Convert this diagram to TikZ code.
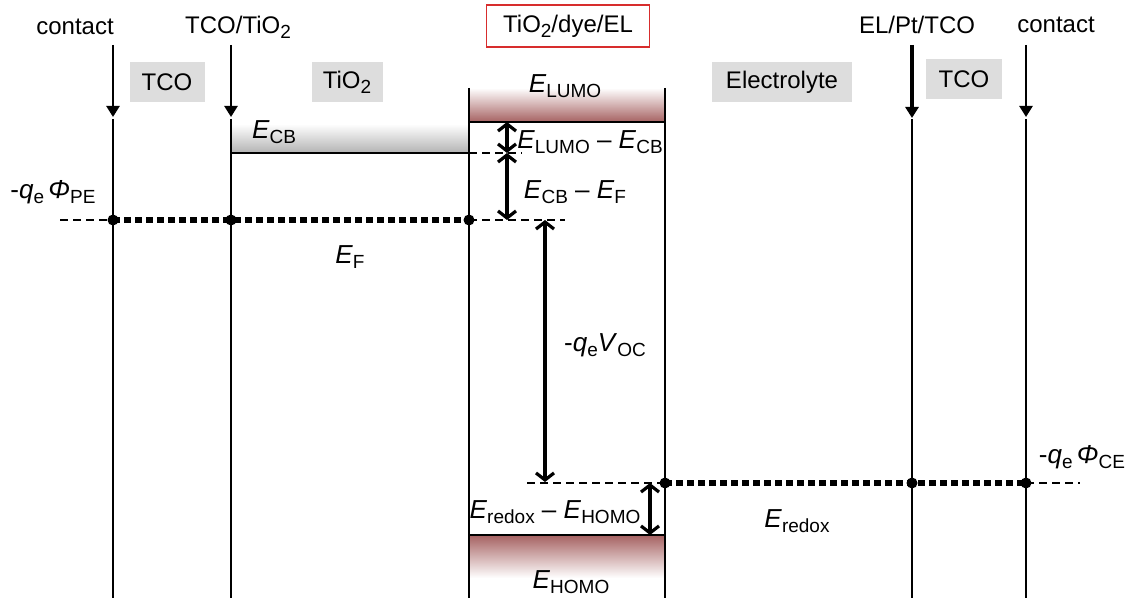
\documentclass[tikz,border=0pt]{standalone}
\usepackage{fontspec}
\setmainfont{Liberation Sans}
\usetikzlibrary{arrows.meta,positioning}
\definecolor{dyered}{RGB}{150,70,70}
\definecolor{dyeframe}{RGB}{215,45,45}
\definecolor{tagfill}{RGB}{221,221,221}
\newcommand{\sub}[1]{\raisebox{-0.4ex}{\fontsize{9.5}{10}\selectfont #1}}
\newcommand{\en}[1]{\textit{E}\sub{#1}}
\newcommand{\qe}{-\textit{q}\sub{e}}

\begin{document}
\begin{tikzpicture}[
      x=0.5pt, y=-0.5pt,
      every node/.style={font=\fontsize{12}{14}\selectfont, inner sep=0pt},
      elabel/.style={font=\fontsize{13}{15}\selectfont},
      tag/.style={fill=tagfill, minimum height=20pt},
      dyetag/.style={draw=dyeframe, line width=0.8pt,
                     minimum width=81.5pt, minimum height=21pt},
      wall/.style={line width=0.6pt},
      probe/.style={-{Triangle[length=5.5pt,width=6.5pt]}, line width=1.2pt},
      edge/.style={line width=1.1pt},
      guide/.style={line width=0.9pt, dash pattern=on 4pt off 2.5pt},
      level/.style={line width=2.6pt, dash pattern=on 3.5pt off 2pt},
      gap/.style={{Straight Barb[length=3.5pt,width=9pt]}-{Straight Barb[length=3.5pt,width=9pt]},
                  line width=1.6pt},
      dot/.style={circle, fill, inner sep=0pt, minimum size=5.5pt},
    ]
    \useasboundingbox (0,0) rectangle (1133,598);

    % Bands
    \shade[top color=white, bottom color=dyered!85] (469,88) rectangle (665,122);
    \shade[top color=white, bottom color=gray!60] (231,124) rectangle (469,153);
    \shade[top color=dyered!85, bottom color=white] (469,535) rectangle (665,578);

    % Interfaces
    \coordinate (pe-top)   at (113,119);  \coordinate (pe-bot)   at (113,598);
    \coordinate (tio-top)  at (231,119);  \coordinate (tio-bot)  at (231,598);
    \coordinate (dyel-top) at (469,88);   \coordinate (dyel-bot) at (469,598);
    \coordinate (dyer-top) at (665,88);   \coordinate (dyer-bot) at (665,598);
    \coordinate (pt-top)   at (912,119);  \coordinate (pt-bot)   at (912,598);
    \coordinate (ce-top)   at (1026,119); \coordinate (ce-bot)   at (1026,598);
    \draw[wall] (pe-top) -- (pe-bot);
    \draw[wall] (tio-top) -- (tio-bot);
    \draw[wall] (dyel-top) -- (dyel-bot);
    \draw[wall] (dyer-top) -- (dyer-bot);
    \draw[wall] (pt-top) -- (pt-bot);
    \draw[wall] (ce-top) -- (ce-bot);

    % Headings
    \node (contl)  at (75,27)   {contact};
    \node (tcotio) at (238,27)  {TCO/TiO\sub{2}};
    \node[dyetag] (dyehead) at (568,26) {TiO\sub{2}/dye/EL};
    \node (elpt)   at (917,25)  {EL/Pt/TCO};
    \node (contr)  at (1056,25) {contact};

    % Probes
    \coordinate (pe-in)  at (113,45);  \coordinate (pe-tip)  at (113,117);
    \coordinate (tio-in) at (231,45);  \coordinate (tio-tip) at (231,117);
    \coordinate (pt-in)  at (912,45);  \coordinate (pt-tip)  at (912,118);
    \coordinate (ce-in)  at (1026,45); \coordinate (ce-tip)  at (1026,117);
    \draw[probe] (pe-in) -- (pe-tip);
    \draw[probe] (tio-in) -- (tio-tip);
    \draw[probe, line width=1.6pt] (pt-in) -- (pt-tip);
    \draw[probe] (ce-in) -- (ce-tip);

    % Layer tags
    \node[tag, minimum width=37.5pt] (tcol)  at (167,82) {TCO};
    \node[tag, minimum width=35.5pt] (tio)   at (347,82) {TiO\sub{2}};
    \node[tag, minimum width=70pt]   (elec)  at (782,82) {Electrolyte};
    \node[tag, minimum width=38pt]   (tcor)  at (964,79) {TCO};

    % Band edges
    \coordinate (lumo-l) at (469,122); \coordinate (lumo-r) at (665,122);
    \coordinate (cb-l)   at (231,153); \coordinate (cb-r)   at (469,153);
    \coordinate (homo-l) at (469,535); \coordinate (homo-r) at (665,535);
    \draw[edge] (lumo-l) -- (lumo-r);
    \draw[edge] (cb-l) -- (cb-r);
    \draw[edge] (homo-l) -- (homo-r);

    % Fermi level
    \node[dot] (fpe)  at (113,220) {};
    \node[dot] (ftio) at (231,220) {};
    \node[dot] (fdye) at (469,220) {};
    \coordinate (f-out) at (60,220);
    \coordinate (f-end) at (565,220);
    \coordinate (cb-end) at (522,153);
    \draw[guide] (f-out) -- (fpe.center);
    \draw[level] (fpe.center) -- (fdye.center);
    \draw[guide] (fdye.center) -- (f-end);
    \draw[guide] (cb-r) -- (cb-end);

    % Redox level
    \node[dot] (rdye) at (665,483) {};
    \node[dot] (rpt)  at (912,483) {};
    \node[dot] (rce)  at (1026,483) {};
    \coordinate (r-in)  at (527,483);
    \coordinate (r-out) at (1080,483);
    \draw[guide] (r-in) -- (rdye.center);
    \draw[level] (rdye.center) -- (rce.center);
    \draw[guide] (rce.center) -- (r-out);

    % Gaps
    \coordinate (g1-a) at (507,122); \coordinate (g1-b) at (507,153);
    \coordinate (g2-a) at (507,153); \coordinate (g2-b) at (507,220);
    \coordinate (g3-a) at (545,220); \coordinate (g3-b) at (545,482);
    \coordinate (g4-a) at (650,483); \coordinate (g4-b) at (650,535);
    \draw[gap] (g1-a) -- (g1-b);
    \draw[gap] (g2-a) -- (g2-b);
    \draw[gap] (g3-a) -- (g3-b);
    \draw[gap] (g4-a) -- (g4-b);

    % Energy labels
    \node[elabel] (elumo)  at (565,86)   {\en{LUMO}};
    \node[elabel] (ecb)    at (274,132)  {\en{CB}};
    \node[elabel] (dlumo)  at (590,142)  {\en{LUMO} – \en{CB}};
    \node[elabel] (dcb)    at (575,192)  {\en{CB} – \en{F}};
    \node[elabel] (phipe)  at (53,192)   {\qe\,\textit{Φ}\sub{PE}};
    \node[elabel] (ef)     at (350,257)  {\en{F}};
    \node[elabel] (voc)    at (605,345)  {\qe\textit{V}\sub{OC}};
    \node[elabel] (dhomo)  at (555,512)  {\en{redox} – \en{HOMO}};
    \node[elabel] (ehomo)  at (571,582)  {\en{HOMO}};
    \node[elabel] (eredox) at (797,521)  {\en{redox}};
    \node[elabel] (phice)  at (1082,457) {\qe\,\textit{Φ}\sub{CE}};
  \end{tikzpicture}
\end{document}
